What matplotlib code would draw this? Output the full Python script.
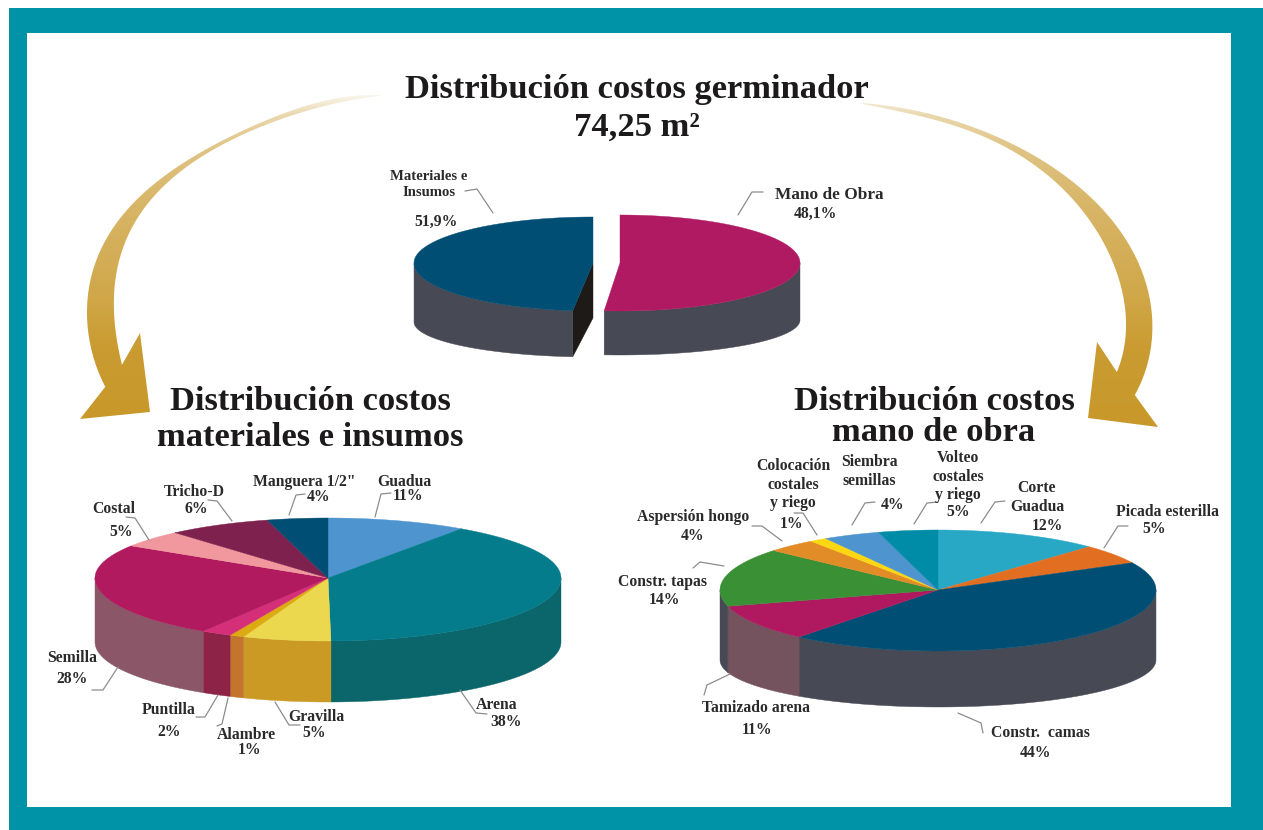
import numpy as np
import matplotlib
matplotlib.use('Agg')
import matplotlib.pyplot as plt
from matplotlib.patches import Polygon, PathPatch, Rectangle
from matplotlib.path import Path
from matplotlib.colors import to_rgb

# ── Data ──────────────────────────────────────────────────────────────────────
# printed labels, and the slice sizes as they are actually drawn in the picture
top_shown = ['51,9%', '48,1%']
top_drawn = [48.2, 51.4]   # the picture draws the blue half as the smaller one

mat_names = ['Guadua', 'Arena', 'Gravilla', 'Alambre', 'Puntilla', 'Semilla', 'Costal', 'Tricho-D', 'Manguera 1/2"']
mat_shown = ['11%', '38%', '5%', '1%', '2%', '28%', '5%', '6%', '4%']
mat_drawn = [9.7, 40.1, 6.1, 1.0, 2.1, 25.0, 4.6, 7.2, 4.2]

obra_names = ['Corte\nGuadua', 'Picada esterilla', 'Constr.  camas', 'Tamizado arena', 'Constr. tapas',
              'Aspersión hongo', 'Colocación\ncostales\ny riego', 'Siembra\nsemillas', 'Volteo\ncostales\ny riego']
obra_shown = ['12%', '5%', '44%', '11%', '14%', '4%', '1%', '4%', '5%']
obra_drawn = [12.2, 5.3, 43.5, 9.7, 15.7, 3.7, 1.3, 4.2, 4.4]

# ── Colours ───────────────────────────────────────────────────────────────────
TEAL = '#0093a8'
INK = '#1c1a1a'
LEADER = '#8c8c8c'
GREY_SIDE = '#474a54'
mat_top = ['#4e95cf', '#047c8c', '#ecd84f', '#dcab12', '#d62f79', '#b11a5f', '#f0989d', '#7f214e', '#004e73']
mat_side = ['#4e95cf', '#0a666a', '#cb9a25', '#c4752d', '#8d2346', '#8a5668', '#f0989d', '#7f214e', '#004e73']
obra_top = ['#29a8c6', '#e26f21', '#004e74', '#b0185f', '#3a9035', '#e28c28', '#fdd711', '#4e95cf', '#008ca6']
obra_side = ['#29a8c6', '#e26f21', GREY_SIDE, '#75535e', GREY_SIDE, '#e28c28', '#fdd711', '#4e95cf', '#008ca6']

fig = plt.figure(figsize=(12.63, 8.30), dpi=100, facecolor='white')
ax = fig.add_axes([0, 0, 1, 1])
ax.axis('off')


def rim(a, cx, cy, rx, up, down):
    # point on a squashed circle, angle in degrees clockwise from 12 o'clock
    t = np.radians(a)
    c = np.cos(t)
    return cx + rx * np.sin(t), cy - np.where(c > 0, up, down) * c


def slab(shares, tops, sides, cx, cy, rx, up, down, base_y, base_down, z=3):
    edges = np.cumsum([0] + list(shares)) * 3.6
    for a0, a1, top, side in zip(edges[:-1], edges[1:], tops, sides):
        s0, s1 = max(a0, 90), min(a1, 270)
        if s1 > s0:
            arc = np.linspace(s0, s1, 80)
            x, y = rim(arc, cx, cy, rx, up, down)
            xb, yb = rim(arc[::-1], cx, base_y, rx, 0, base_down)
            ax.add_patch(Polygon(np.c_[np.r_[x, xb], np.r_[y, yb]], fc=side, ec=side, lw=0.3, zorder=z))
    for a0, a1, top in zip(edges[:-1], edges[1:], tops):
        arc = np.linspace(a0, a1, 120)
        x, y = rim(arc, cx, cy, rx, up, down)
        ax.add_patch(Polygon(np.c_[np.r_[cx, x], np.r_[cy, y]], fc=top, ec=top, lw=0.3, zorder=z + 1))


def smooth(points, n=120, deg=5):
    # polynomial fit through the hand-read outline points, so the edge has no kinks
    p = np.array(points, dtype=float)
    d = np.r_[0, np.cumsum(np.hypot(*np.diff(p, axis=0).T))]
    d = d / d[-1]
    t = np.linspace(0, 1, n)
    deg = min(deg, len(p) - 1)
    return np.c_[np.polyval(np.polyfit(d, p[:, 0], deg), t), np.polyval(np.polyfit(d, p[:, 1], deg), t)]


def gold_arrow(outer, head, inner, x0, x1, y0, y1):
    outline = np.vstack([smooth(outer), head, smooth(inner)[::-1]])
    clip = PathPatch(Path(outline, closed=False), fc='none', ec='none', transform=ax.transData)
    ax.add_patch(clip)
    ys = np.linspace(y0, y1, 300)
    stops_y = [y0, 115, 150, 200, 300, 350, y1]
    stops_l = [1.0, 0.62, 0.42, 0.3, 0.14, 0.03, 0.0]
    gold = np.array(to_rgb('#c8982a'))
    light = np.interp(ys, stops_y, stops_l)
    img = np.zeros((300, 2, 3))
    for k in range(3):
        img[:, :, k] = (gold[k] + (1 - gold[k]) * light)[:, None]
    im = ax.imshow(img, extent=[x0, x1, y1, y0], aspect='auto', zorder=2, interpolation='bilinear')
    im.set_clip_path(clip)


def put(x, y, s, **kw):
    ax.text(x, y + 1.5, s, **kw)


# ── Frame ─────────────────────────────────────────────────────────────────────
ax.add_patch(Rectangle((9, 8), 1254, 822, fc=TEAL, ec='none', zorder=0))
ax.add_patch(Rectangle((27, 33), 1204, 774, fc='white', ec='none', zorder=1))

# ── Arrows ────────────────────────────────────────────────────────────────────
gold_arrow([(380, 95), (293, 110), (193, 157), (127, 210), (93, 270), (86, 317), (92, 347), (105, 387)],
           [(80, 419), (150, 412), (140, 333)],
           [(380, 96), (260, 127), (193, 163), (147, 203), (120, 260), (114, 317), (122, 365)],
           75, 390, 90, 425)
gold_arrow([(863, 103), (967, 125), (1067, 177), (1127, 243), (1152, 303), (1150, 347), (1135, 395)],
           [(1158, 427), (1088, 418), (1097, 342)],
           [(863, 104), (967, 130), (1050, 177), (1100, 237), (1125, 303), (1125, 337), (1117, 372)],
           855, 1165, 90, 430)

# ── Pies ──────────────────────────────────────────────────────────────────────
# top pie: two halves pulled apart, cut face of the blue half first
blue_end = 360 - top_drawn[0] * 3.6
bx, by = rim(np.array(blue_end), 593, 263, 179, 46, 48)
ax.add_patch(Polygon([(593, 263), (float(bx), float(by)), (float(bx), float(by) + 46), (593, 318)],
                     fc='#1e1a17', ec='#1e1a17', lw=0.3, zorder=3))

blue_arc = np.linspace(blue_end, 360, 150)
x, y = rim(blue_arc, 593, 263, 179, 46, 48)
arc = blue_arc[blue_arc < 270]
xs, ys = rim(arc, 593, 263, 179, 46, 48)
xb, yb = rim(arc[::-1], 593, 322, 179, 0, 35)
ax.add_patch(Polygon(np.c_[np.r_[xs, xb], np.r_[ys, yb]], fc=GREY_SIDE, ec=GREY_SIDE, lw=0.3, zorder=3))
ax.add_patch(Polygon(np.c_[np.r_[593, x], np.r_[263, y]], fc='#004e74', ec='#004e74', lw=0.3, zorder=4))

red_end = top_drawn[1] * 3.6
arc = np.linspace(90, red_end, 120)
xs, ys = rim(arc, 620, 263, 180, 48, 48)
xb, yb = rim(arc[::-1], 620, 320, 180, 0, 35)
ax.add_patch(Polygon(np.c_[np.r_[xs, xb], np.r_[ys, yb]], fc=GREY_SIDE, ec=GREY_SIDE, lw=0.3, zorder=3))
arc = np.linspace(0, red_end, 150)
x, y = rim(arc, 620, 263, 180, 48, 48)
ax.add_patch(Polygon(np.c_[np.r_[620, x], np.r_[263, y]], fc='#b01a62', ec='#b01a62', lw=0.3, zorder=4))

slab(mat_drawn, mat_top, mat_side, 328, 578, 233, 60, 63, 642, 60)
slab(obra_drawn, obra_top, obra_side, 938, 590, 218, 60, 61, 660, 47)

# ── Titles ────────────────────────────────────────────────────────────────────
title_font = dict(family='Liberation Serif', fontweight='bold', color=INK, ha='center', va='center',
                  fontsize=24.8, zorder=6)
put(637, 88, 'Distribución costos germinador', **title_font)
put(637, 126, '74,25 m²', **title_font)
put(310, 400, 'Distribución costos', **title_font)
put(310, 436, 'materiales e insumos', **title_font)
put(934, 400, 'Distribución costos', **title_font)
put(934, 431, 'mano de obra', **title_font)

# ── Labels ────────────────────────────────────────────────────────────────────
label_font = dict(family='Liberation Serif', fontweight='bold', color='#2a2a2a', ha='center', va='center',
                  fontsize=11.3, linespacing=1.2, zorder=6)

put(429, 183, 'Materiales e\nInsumos', **{**label_font, 'fontsize': 10.6})
put(436, 220, top_shown[0], **label_font)
put(829, 193, 'Mano de Obra', **{**label_font, 'fontsize': 12.4})
put(815, 212, top_shown[1], **label_font)

mat_name_pos = [(404, 480), (497, 703), (316, 715), (246, 733), (169, 708), (72, 656), (114, 507), (194, 490), (304, 480)]
mat_pct_pos = [(408, 494), (506, 720), (314, 731), (250, 748), (169, 730), (72, 677), (121, 530), (196, 507), (319, 495)]
for name, pct, p, q in zip(mat_names, mat_shown, mat_name_pos, mat_pct_pos):
    put(p[0], p[1], name, **label_font)
    put(q[0], q[1], pct, **label_font)

obra_name_pos = [(1037, 496), (1167, 510), (1040, 731), (756, 706), (662, 580), (693, 515), (793, 483), (869, 470), (958, 475)]
obra_pct_pos = [(1047, 524), (1154, 527), (1036, 751), (757, 728), (665, 598), (693, 534), (792, 522), (893, 503), (958, 510)]
for name, pct, p, q in zip(obra_names, obra_shown, obra_name_pos, obra_pct_pos):
    put(p[0], p[1], name, **label_font)
    put(q[0], q[1], pct, **label_font)

# ── Leader lines ──────────────────────────────────────────────────────────────
leaders = [
    [(465, 191), (477, 189), (493, 213)], [(763, 192), (752, 192), (738, 215)],
    [(391, 493), (381, 494), (375, 517)], [(305, 494), (296, 495), (289, 515)],
    [(208, 500), (217, 501), (232, 521)], [(126, 517), (135, 518), (149, 540)],
    [(92, 690), (103, 690), (118, 667)], [(196, 717), (205, 717), (218, 695)],
    [(217, 726), (222, 724), (228, 698)], [(300, 725), (289, 725), (275, 702)],
    [(487, 714), (476, 713), (460, 690)], [(1005, 501), (995, 502), (981, 523)],
    [(1128, 526), (1118, 526), (1104, 548)], [(938, 502), (927, 503), (914, 524)],
    [(875, 502), (865, 503), (852, 525)], [(794, 513), (803, 513), (817, 535)],
    [(752, 526), (762, 526), (782, 541)], [(693, 568), (700, 562), (724, 566)],
    [(704, 695), (707, 685), (730, 674)], [(983, 733), (981, 723), (958, 713)],
]
for line in leaders:
    xs, ys = zip(*line)
    ax.plot(xs, ys, color=LEADER, lw=0.9, zorder=5, solid_capstyle='round')

ax.set_xlim(0, 1263)
ax.set_ylim(830, 0)
fig.savefig('out.png', dpi=100, facecolor='white')
